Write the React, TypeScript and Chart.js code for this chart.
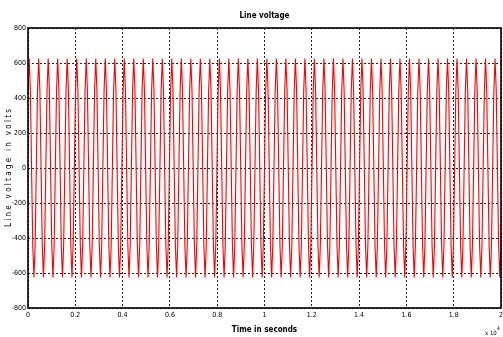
import React, { useEffect, useRef } from "react";
import { Chart, registerables } from "chart.js";

Chart.register(...registerables);

const titleText = "Line voltage";
const xLabelText = "Time in seconds";
const yLabelText = "L i n e   v o l t a g e   i n   v o l t s";
const xTicks = [0, 0.2, 0.4, 0.6, 0.8, 1, 1.2, 1.4, 1.6, 1.8, 2];
const yTicks = [-800, -600, -400, -200, 0, 200, 400, 600, 800];
// one cycle of the waveform (peak ~625 V)
const cycleShape = [625, 440, 0, -440, -625, -440, 0, 440];
const period = 0.0402; // x 10^4 s, spacing between peaks
const firstPeak = 0.005;
const xMax = 2;

const FONT = '"Liberation Sans Narrow", "DejaVu Sans Condensed", Arial, sans-serif';

function buildPoints() {
  const pts: { x: number; y: number }[] = [];
  const step = period / cycleShape.length;
  for (let c = -1; firstPeak + c * period <= xMax + period; c++) {
    for (let j = 0; j < cycleShape.length; j++) {
      const t = firstPeak + c * period + j * step;
      if (t < -step || t > xMax + step) continue;
      pts.push({ x: t, y: cycleShape[j] });
    }
  }
  return pts;
}

const framePlugin = {
  id: "frameText",
  afterDraw(chart: any) {
    const { ctx, chartArea } = chart;
    const { left, right, top, bottom } = chartArea;
    ctx.save();
    ctx.strokeStyle = "#000";
    ctx.lineWidth = 1.6;
    ctx.strokeRect(left, top, right - left, bottom - top);
    ctx.fillStyle = "#000";
    ctx.textAlign = "center";
    ctx.textBaseline = "middle";
    ctx.font = `bold 8px ${FONT}`;
    ctx.fillText(titleText, (left + right) / 2, 16);
    ctx.fillText(xLabelText, (left + right) / 2, 330);
    ctx.font = `6px ${FONT}`;
    ctx.textAlign = "left";
    ctx.fillText("x 10", 485, 333);
    ctx.font = `5px ${FONT}`;
    ctx.fillText("4", 497, 329);
    ctx.translate(9, (top + bottom) / 2);
    ctx.rotate(-Math.PI / 2);
    ctx.textAlign = "center";
    ctx.font = `8px ${FONT}`;
    ctx.fillText(yLabelText, 0, 0);
    ctx.restore();
  },
};

export default function App() {
  const ref = useRef<HTMLCanvasElement>(null);
  useEffect(() => {
    document.body.style.margin = "0";
    const chart = new Chart(ref.current!, {
      type: "line",
      data: {
        datasets: [
          {
            data: buildPoints(),
            borderColor: "#ff0000",
            borderWidth: 1.1,
            pointRadius: 0,
            tension: 0,
          },
        ],
      },
      options: {
        animation: false,
        responsive: false,
        devicePixelRatio: 1,
        layout: { padding: { top: 28, right: 2, left: 0, bottom: 0 } },
        plugins: { legend: { display: false }, tooltip: { enabled: false } },
        scales: {
          x: {
            type: "linear",
            min: 0,
            max: xMax,
            afterBuildTicks(scale: any) {
              scale.ticks = xTicks.map((v) => ({ value: v }));
            },
            afterFit(scale: any) {
              scale.height = 29;
              scale.paddingLeft = 0;
              scale.paddingRight = 0;
            },
            ticks: {
              color: "#000",
              font: { family: FONT, size: 7 },
              padding: 3,
              maxRotation: 0,
              autoSkip: false,
              callback: (v: any) => String(Math.round(Number(v) * 10) / 10),
            },
            grid: { color: "#222", lineWidth: 1, drawTicks: false },
            border: { display: false, dash: [2, 2] },
          },
          y: {
            type: "linear",
            min: -800,
            max: 800,
            afterBuildTicks(scale: any) {
              scale.ticks = yTicks.map((v) => ({ value: v }));
            },
            afterFit(scale: any) {
              scale.width = 28;
              scale.paddingTop = 0;
              scale.paddingBottom = 0;
            },
            ticks: {
              color: "#000",
              font: { family: FONT, size: 7 },
              padding: 2,
              autoSkip: false,
              callback: (v: any) => String(v),
            },
            grid: { color: "#222", lineWidth: 1, drawTicks: false },
            border: { display: false, dash: [2, 2] },
          },
        },
      },
      plugins: [framePlugin],
    });
    return () => chart.destroy();
  }, []);
  return (
    <div style={{ position: "absolute", left: 0, top: 0, width: 503, height: 337, background: "#fff" }}>
      <canvas ref={ref} width={503} height={337} />
    </div>
  );
}
